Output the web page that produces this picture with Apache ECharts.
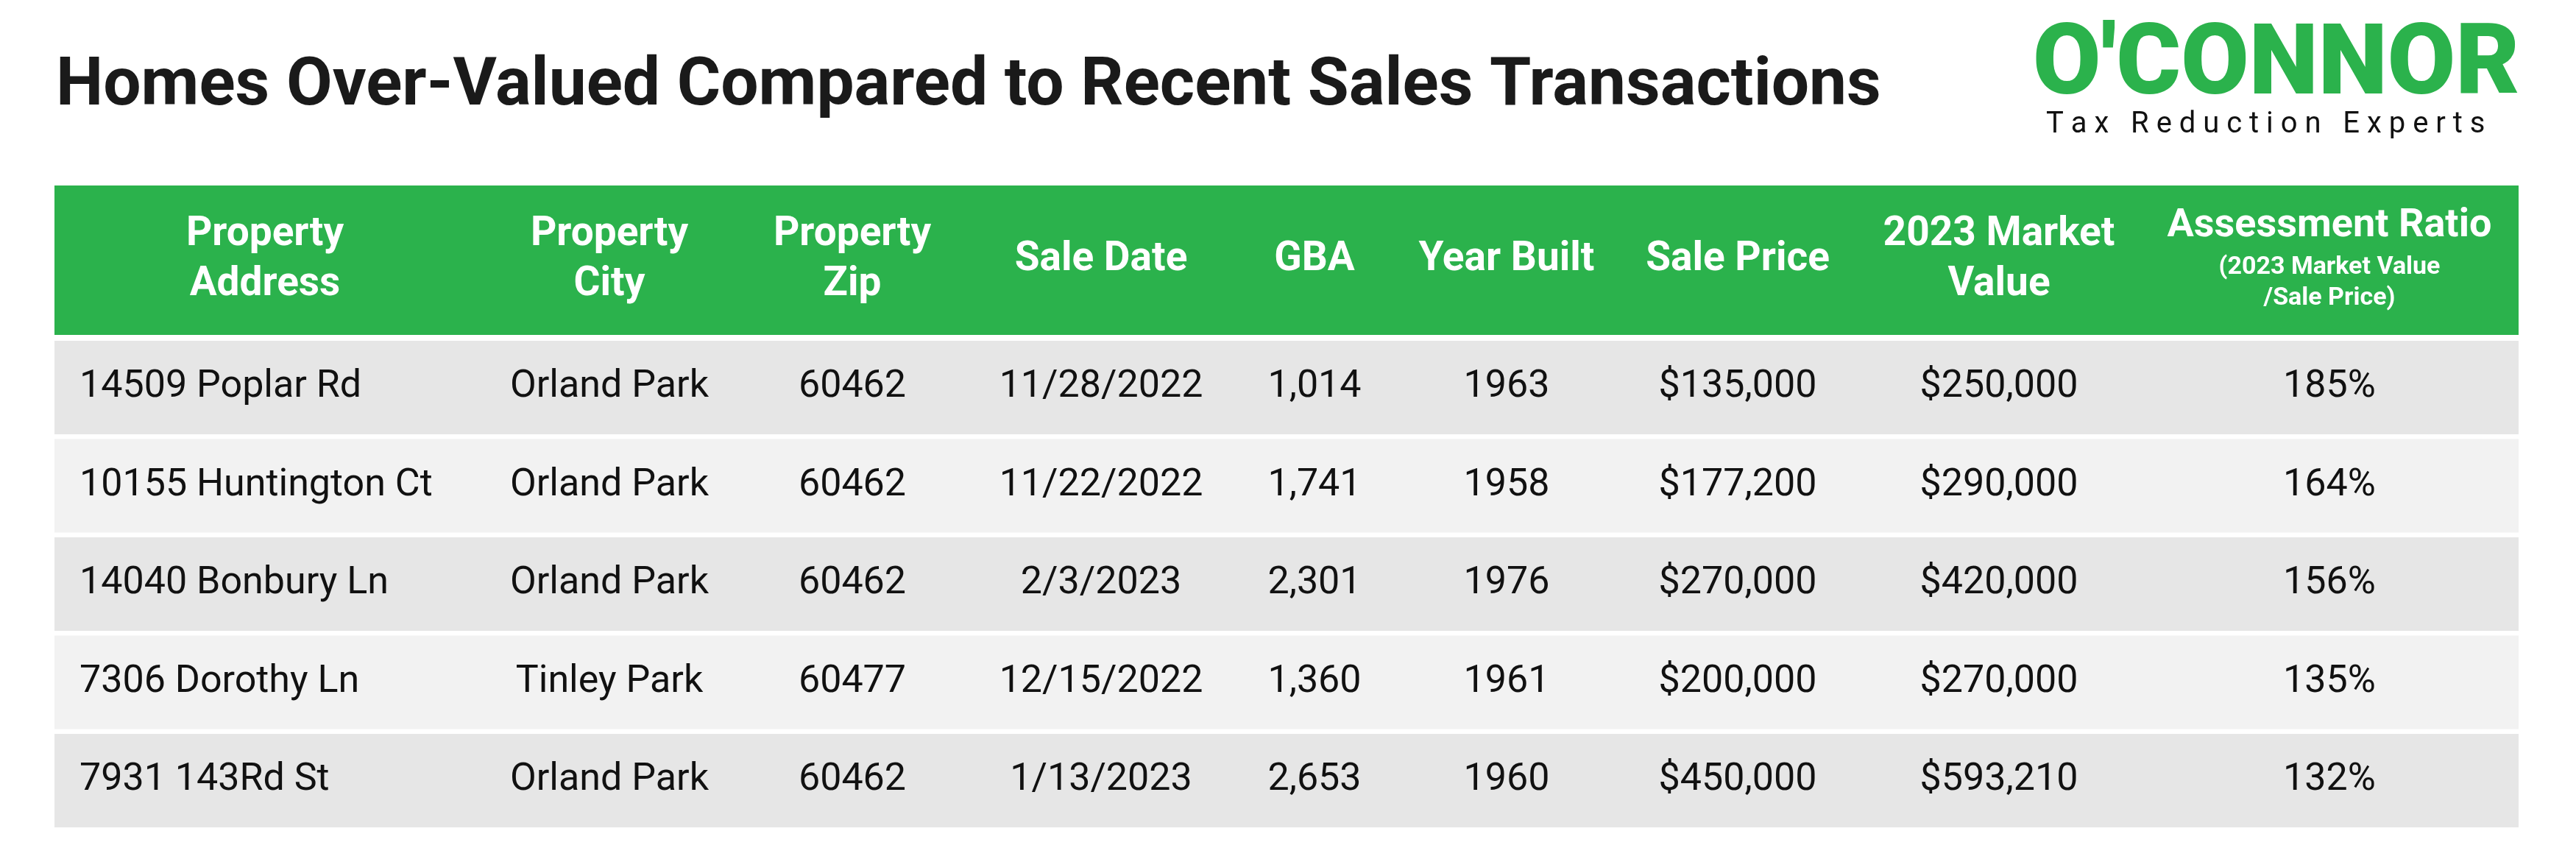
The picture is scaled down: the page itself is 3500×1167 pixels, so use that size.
<!DOCTYPE html>
<html><head><meta charset="utf-8">
<script src="https://cdn.jsdelivr.net/npm/echarts@6/dist/echarts.min.js"></script>
<style>html,body{margin:0;padding:0;background:#fff}#c{width:3500px;height:1167px}</style>
</head><body><div id="c"></div>
<script>
const title = "Homes Over-Valued Compared to Recent Sales Transactions";
const headers = ["Property\nAddress","Property\nCity","Property\nZip","Sale Date","GBA","Year Built","Sale Price","2023 Market\nValue","Assessment Ratio"];
const ratioSub = "(2023 Market Value\n/Sale Price)";
const addresses = ["14509 Poplar Rd","10155 Huntington Ct","14040 Bonbury Ln","7306 Dorothy Ln","7931 143Rd St"];
const cities = ["Orland Park","Orland Park","Orland Park","Tinley Park","Orland Park"];
const zips = ["60462","60462","60462","60477","60462"];
const saleDates = ["11/28/2022","11/22/2022","2/3/2023","12/15/2022","1/13/2023"];
const gba = ["1,014","1,741","2,301","1,360","2,653"];
const yearBuilt = ["1963","1958","1976","1961","1960"];
const salePrice = ["$135,000","$177,200","$270,000","$200,000","$450,000"];
const marketValue = ["$250,000","$290,000","$420,000","$270,000","$593,210"];
const ratio = ["185%","164%","156%","135%","132%"];

const colX = [108, 828, 1158, 1496, 1786, 2047, 2361, 2716, 3165];
const cols = [addresses,cities,zips,saleDates,gba,yearBuilt,salePrice,marketValue,ratio];
const F = "Roboto, 'Noto Sans', sans-serif";
const G = [];
G.push({type:'text',left:76,top:74,style:{text:title,font:"bold 91px "+F,fill:'#1a1a1a'}});
G.push({type:'text',left:2762,top:26,style:{text:"O'CONNOR",font:"900 134px "+F,fill:'#2bb24c'}});
G.push({type:'text',left:2780,top:150,style:{text:"T a x   R e d u c t i o n   E x p e r t s",font:"40px "+F,fill:'#111',width:640,overflow:'none'}});
G.push({type:'rect',shape:{x:74,y:252,width:3348,height:203},style:{fill:'#2bb24c'}});
headers.forEach((h,i)=>{
  const x = i===0 ? 360 : colX[i];
  if(i===8){
    G.push({type:'text',x:x,y:307,style:{text:h,font:"bold 54px "+F,fill:'#fff',align:'center',verticalAlign:'middle'}});
    G.push({type:'text',x:x,y:384,style:{text:ratioSub,font:"bold 34px "+F,fill:'#fff',align:'center',verticalAlign:'middle',lineHeight:42}});
  } else {
    G.push({type:'text',x:x,y:353,style:{text:h,font:"bold 55px "+F,fill:'#fff',align:'center',verticalAlign:'middle',lineHeight:68}});
  }
});
addresses.forEach((a,r)=>{
  const y = 463 + r*133.5;
  G.push({type:'rect',shape:{x:74,y:y,width:3348,height:127},style:{fill:r%2===0?'#e6e6e6':'#f2f2f2'}});
  cols.forEach((c,i)=>{
    G.push({type:'text',x:colX[i],y:y+63,style:{text:c[r],font:"52px "+F,fill:'#111',align:i===0?'left':'center',verticalAlign:'middle'}});
  });
});
const chart = echarts.init(document.getElementById('c'));
chart.setOption({backgroundColor:'#fff',graphic:G});
</script></body></html>
